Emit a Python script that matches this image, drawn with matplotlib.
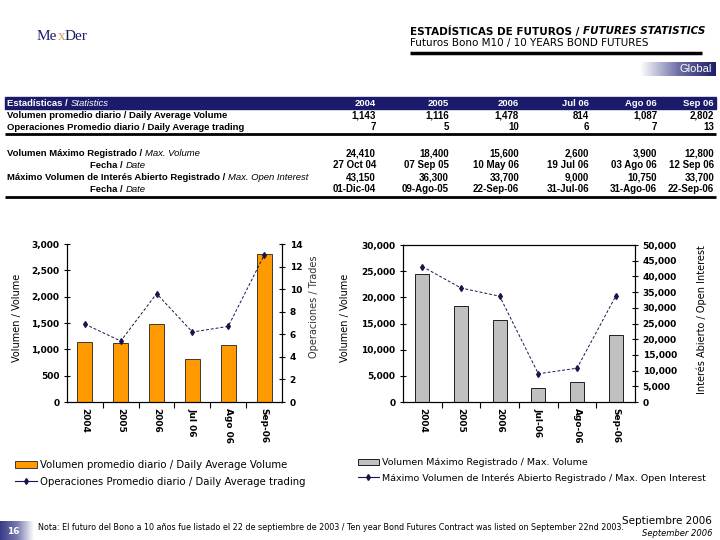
import numpy as np
import matplotlib.pyplot as plt
from matplotlib.patches import Rectangle
from matplotlib.lines import Line2D
from matplotlib.colors import LinearSegmentedColormap

plt.rcParams['font.family'] = ['DejaVu Sans']

# data
periods = ['2004', '2005', '2006', 'Jul 06', 'Ago 06', 'Sep 06']
left_labels = ['2004', '2005', '2006', 'Jul 06', 'Ago 06', 'Sep-06']
right_labels = ['2004', '2005', '2006', 'Jul-06', 'Ago-06', 'Sep-06']
avg_volume = [1143, 1116, 1478, 814, 1087, 2802]
avg_trades = [6.9, 5.4, 9.6, 6.2, 6.7, 13.0]
max_volume = [24410, 18400, 15600, 2600, 3900, 12800]
max_volume_date = ['27 Oct 04', '07 Sep 05', '10 May 06', '19 Jul 06', '03 Ago 06', '12 Sep 06']
max_oi = [43150, 36300, 33700, 9000, 10750, 33700]
max_oi_date = ['01-Dic-04', '09-Ago-05', '22-Sep-06', '31-Jul-06', '31-Ago-06', '22-Sep-06']

NAVY = '#1b1b6b'
ORANGE = '#ff9a00'
GREY = '#c0c0c0'
LINE = '#16164d'
TAB = ['Liberation Sans', 'DejaVu Sans']

fig = plt.figure(figsize=(7.2, 5.4), dpi=100)
bg = fig.add_axes([0, 0, 1, 1])
bg.axis('off')


def chain(x, y, parts, **kw):
    # write text pieces one after the other with different styles
    t = bg.text(x, y, parts[0][0], va='center', ha='left', **{**kw, **parts[0][1]})
    for s, st in parts[1:]:
        t = bg.annotate(s, xy=(1, 0), xycoords=t, va='bottom', ha='left', **{**kw, **st})
    return t


# logo
chain(37, 36, [('Me', dict(color=NAVY)), ('x', dict(color='#c8a060')),
               ('Der', dict(color=NAVY))], family=['Liberation Serif', 'DejaVu Serif'], fontsize=11)

# header
chain(410, 31, [('ESTADÍSTICAS DE FUTUROS / ', dict(fontweight='bold')),
                ('FUTURES STATISTICS', dict(fontweight='bold', fontstyle='italic'))], fontsize=7.5)
bg.text(410, 43, 'Futuros Bono M10 / 10 YEARS BOND FUTURES', fontsize=7.5, va='center')
bg.hlines(53, 410, 702, color='black', lw=2.5)

# Global tab
grad = np.linspace(0, 1, 200).reshape(1, -1)
cm_tab = LinearSegmentedColormap.from_list('tab', ['white', '#7070a8', '#1e1e66'])
bg.imshow(grad, extent=(640, 716, 76, 62), cmap=cm_tab, aspect='auto')
bg.text(712, 69, 'Global', color='white', fontsize=8, ha='right', va='center', family=TAB)

# table
col_x = [376, 449, 519, 589, 657, 714]
bg.add_patch(Rectangle((5, 97), 711, 12, color=NAVY))
chain(7, 103, [('Estadísticas / ', dict(fontweight='bold')), ('Statistics', dict(fontstyle='italic'))],
      fontsize=6.8, color='white', family=TAB)
for cx, p in zip(col_x, periods):
    bg.text(cx, 103, p, color='white', fontsize=6.8, fontweight='bold', ha='right', va='center', family=TAB)

bold = dict(fontweight='bold')
ital = dict(fontstyle='italic')
bg.text(7, 116, 'Volumen promedio diario / Daily Average Volume', fontsize=6.8, va='center', family=TAB, **bold)
bg.text(7, 127, 'Operaciones Promedio diario / Daily Average trading', fontsize=6.8, va='center', family=TAB, **bold)
chain(7, 153, [('Volumen Máximo Registrado / ', bold), ('Max. Volume', ital)], fontsize=6.8, family=TAB)
chain(90, 165, [('Fecha / ', bold), ('Date', ital)], fontsize=6.8, family=TAB)
chain(7, 177, [('Máximo Volumen de Interés Abierto Registrado / ', bold), ('Max. Open Interest', ital)],
      fontsize=6.8, family=TAB)
chain(90, 189, [('Fecha / ', bold), ('Date', ital)], fontsize=6.8, family=TAB)

rows = [(116, [f'{v:,}' for v in avg_volume]),
        (127, [f'{v:.0f}' for v in avg_trades]),
        (153, [f'{v:,}' for v in max_volume]),
        (165, max_volume_date),
        (177, [f'{v:,}' for v in max_oi]),
        (189, max_oi_date)]
for y, vals in rows:
    for cx, s in zip(col_x, vals):
        bg.text(cx, y, s, fontsize=7, ha='right', va='center', family=TAB, **bold)
bg.hlines([134, 197], 5, 716, color='black', lw=2)

# footer
cm_pg = LinearSegmentedColormap.from_list('pg', ['#3a3a88', '#7878b0', 'white'])
bg.imshow(grad, extent=(0, 34, 540, 521), cmap=cm_pg, aspect='auto')
bg.text(13, 532, '16', color='white', fontsize=6.5, ha='center', va='center', fontweight='bold')
bg.text(38, 528, 'Nota: El futuro del Bono a 10 años fue listado el 22 de septiembre de 2003 / '
        'Ten year Bond Futures Contract was listed on September 22nd 2003.', fontsize=5.75, va='center')
bg.text(712, 521, 'Septiembre 2006', fontsize=7.5, ha='right', va='center')
bg.text(712, 533, 'September 2006', fontsize=6, ha='right', va='center', fontstyle='italic')

bg.set_xlim(0, 720)
bg.set_ylim(540, 0)

x = np.arange(len(periods))


def style_axes(ax, ax2, labels):
    ax.set_xlim(-0.5, len(labels) - 0.5)
    ax.set_xticks(x)
    ax.set_xticklabels(labels, rotation=270, fontsize=6.5, fontweight='bold')
    ax.set_xticks(np.arange(0.5, len(labels) - 0.5, 1), minor=True)
    ax.tick_params(axis='x', which='major', length=0, pad=4)
    ax.tick_params(axis='x', which='minor', length=4, direction='out', width=0.8)
    for a in (ax, ax2):
        a.tick_params(axis='y', direction='inout', length=5, width=0.8, labelsize=6.5, pad=3)
        for lab in a.get_yticklabels():
            lab.set_fontweight('bold')
        for sp in a.spines.values():
            sp.set_linewidth(0.8)
    ax.patch.set_alpha(0)


# left chart: daily average volume and trades
axL = fig.add_axes([67 / 720, 1 - 402 / 540, 215 / 720, 158 / 540])
bars_l = axL.bar(x, avg_volume, width=0.42, color=ORANGE, edgecolor='#222222', linewidth=0.6)
axL.set_ylim(0, 3000)
axL.set_yticks(range(0, 3001, 500))
axL.set_yticklabels([f'{v:,}' for v in range(0, 3001, 500)])
axL2 = axL.twinx()
axL2.plot(x, avg_trades, color=LINE, lw=0.7, ls=(0, (3, 2)), marker='d', ms=3)
axL2.set_ylim(0, 14)
axL2.set_yticks(range(0, 15, 2))
for a in (axL, axL2):
    a.spines['top'].set_visible(False)
style_axes(axL, axL2, left_labels)

# right chart: max volume and max open interest
axR = fig.add_axes([403 / 720, 1 - 402 / 540, 232 / 720, 157 / 540])
bars_r = axR.bar(x, max_volume, width=0.36, color=GREY, edgecolor='black', linewidth=0.6)
axR.set_ylim(0, 30000)
axR.set_yticks(range(0, 30001, 5000))
axR.set_yticklabels([f'{v:,}' for v in range(0, 30001, 5000)])
axR2 = axR.twinx()
axR2.plot(x, max_oi, color=LINE, lw=0.7, ls=(0, (3, 2)), marker='d', ms=3)
axR2.set_ylim(0, 50000)
axR2.set_yticks(range(0, 50001, 5000))
axR2.set_yticklabels([f'{v:,}' for v in range(0, 50001, 5000)])
style_axes(axR, axR2, right_labels)

# axis titles
bg.text(17, 318, 'Volumen / Volume', rotation=90, fontsize=7, ha='center', va='center')
bg.text(314, 307, 'Operaciones / Trades', rotation=90, fontsize=7, ha='center', va='center', color='#333333')
bg.text(345, 318, 'Volumen / Volume', rotation=90, fontsize=7, ha='center', va='center')
bg.text(702, 320, 'Interés Abierto / Open Interest', rotation=90, fontsize=7, ha='center', va='center')

# legends
line_key = Line2D([], [], color=LINE, lw=0.8, marker='d', ms=3)
leg_kw = dict(loc='upper left', bbox_transform=fig.transFigure, frameon=False,
              handlelength=2.2, handleheight=0.6, handletextpad=0.3, borderpad=0, borderaxespad=0,
              labelspacing=0.65)
axL.legend([bars_l, line_key],
           ['Volumen promedio diario / Daily Average Volume',
            'Operaciones Promedio diario / Daily Average trading'],
           bbox_to_anchor=(15 / 720, 1 - 460 / 540), fontsize=7.3, **leg_kw)
axR.legend([bars_r, line_key],
           ['Volumen Máximo Registrado / Max. Volume',
            'Máximo Volumen de Interés Abierto Registrado / Max. Open Interest'],
           bbox_to_anchor=(358 / 720, 1 - 458 / 540), fontsize=6.8, **leg_kw)

fig.savefig('out.png', dpi=100)
